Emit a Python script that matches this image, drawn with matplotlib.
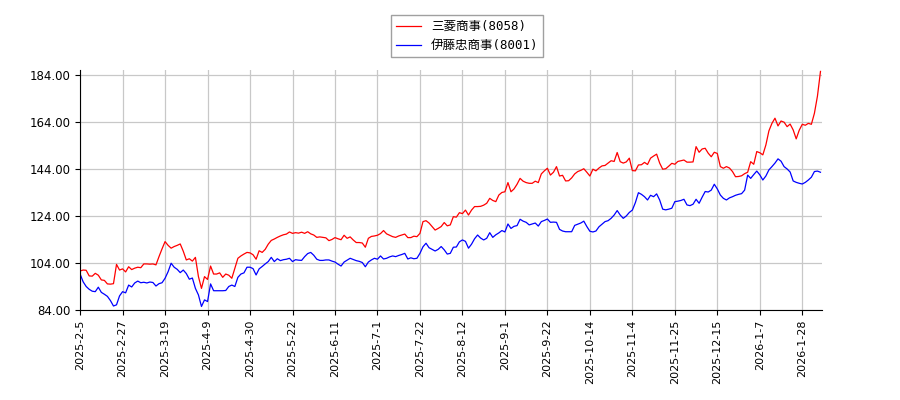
import matplotlib
matplotlib.use("Agg")
import matplotlib.pyplot as plt
from matplotlib.ticker import FormatStrFormatter

# 三菱商事(8058) relative price, one value per trading day
mitsubishi = [
    100.6, 101.0, 100.9, 98.5, 98.4, 99.6, 98.8, 96.8, 96.6, 95.1,
    95.0, 95.2, 103.4, 101.0, 101.5, 100.2, 102.4, 101.2, 101.8, 102.2,
    102.0, 103.6, 103.6, 103.5, 103.6, 103.2, 106.7, 110.0, 113.1, 111.5,
    110.3, 111.0, 111.5, 112.1, 109.0, 105.3, 105.8, 104.8, 106.4, 98.2,
    93.2, 98.2, 97.0, 102.7, 99.3, 99.3, 99.8, 97.9, 99.3, 98.8,
    97.5, 101.7, 106.0, 107.0, 107.8, 108.5, 108.3, 107.5, 105.6, 109.2,
    108.5, 109.8, 112.0, 113.6, 114.2, 114.9, 115.5, 116.0, 116.3, 117.2,
    116.6, 116.9, 116.7, 117.1, 116.6, 117.3, 116.4, 115.9, 114.9, 115.1,
    114.9, 114.7, 113.5, 114.0, 114.8, 114.3, 113.9, 115.8, 114.5, 115.1,
    113.8, 112.7, 112.7, 112.5, 110.7, 114.5, 115.3, 115.5, 115.8, 116.5,
    117.8, 116.4, 115.8, 115.2, 114.9, 115.5, 115.9, 116.3, 114.8, 114.8,
    115.4, 115.2, 116.6, 121.6, 122.0, 121.0, 119.5, 118.0, 118.7, 119.5,
    121.2, 119.8, 120.2, 123.7, 123.5, 125.4, 125.0, 126.5, 124.4, 126.5,
    128.0, 128.0, 128.1, 128.6, 129.4, 131.5, 130.6, 130.1, 132.9, 134.0,
    134.3, 138.2, 134.3, 135.5, 137.5, 140.0, 138.8, 138.2, 137.9, 137.9,
    138.8, 138.2, 141.9, 143.2, 144.3, 141.4, 142.6, 145.0, 141.0, 141.3,
    138.9, 139.0, 140.2, 141.9, 142.9, 143.4, 144.1, 142.6, 141.0, 143.9,
    143.2, 144.4, 145.3, 145.5, 146.5, 147.5, 147.2, 151.0, 147.1, 146.5,
    147.0, 148.6, 143.3, 143.2, 145.7, 145.8, 146.8, 145.9, 148.6, 149.5,
    150.3, 146.5, 143.9, 144.1, 145.2, 146.4, 146.0, 147.2, 147.5, 147.8,
    146.9, 146.9, 147.0, 153.5, 151.1, 152.5, 152.8, 150.7, 149.2, 151.1,
    150.6, 145.0, 144.3, 145.0, 144.4, 142.9, 140.7, 140.8, 141.1, 142.0,
    142.6, 147.1, 146.0, 151.4, 150.9, 150.0, 154.2, 160.2, 163.4, 165.6,
    162.3, 164.4, 163.9, 162.0, 163.1, 160.6, 156.8, 160.5, 163.0, 162.6,
    163.4, 163.0, 167.7, 175.0, 185.5,
]

# 伊藤忠商事(8001) relative price
itochu = [
    99.3, 96.0, 94.0, 92.8, 92.0, 91.8, 93.7, 91.5, 90.7, 89.8,
    88.0, 85.7, 86.2, 90.0, 91.8, 91.3, 94.6, 93.8, 95.5, 96.3,
    95.6, 95.8, 95.5, 95.9, 95.7, 94.2, 95.2, 95.6, 97.5, 100.3,
    103.9, 102.2, 101.3, 99.9, 101.0, 99.5, 97.1, 97.6, 93.2, 90.4,
    85.5, 88.3, 87.6, 95.1, 92.2, 92.2, 92.2, 92.2, 92.3, 94.0,
    94.6, 94.0, 97.9, 99.3, 99.8, 102.2, 102.2, 101.6, 98.9, 101.5,
    102.5, 103.6, 104.6, 106.4, 104.6, 105.8, 105.0, 105.4, 105.6, 106.0,
    104.6, 105.4, 105.2, 105.1, 106.7, 108.0, 108.5, 107.3, 105.6, 105.1,
    105.1, 105.3, 105.3, 104.8, 104.4, 103.5, 102.7, 104.4, 105.2, 106.0,
    105.5, 105.0, 104.7, 104.2, 102.4, 104.4, 105.3, 106.0, 105.6, 107.0,
    105.7, 106.0, 106.6, 107.0, 106.7, 107.2, 107.6, 108.1, 105.7, 106.2,
    105.8, 106.0, 108.1, 110.9, 112.4, 110.5, 109.8, 109.1, 109.8, 111.0,
    109.6, 107.8, 108.1, 110.7, 110.8, 113.0, 113.8, 113.2, 110.3, 112.0,
    114.3, 115.9, 114.6, 113.8, 114.5, 116.9, 114.9, 116.0, 116.8, 117.8,
    117.2, 120.6, 118.7, 119.6, 119.9, 122.6, 121.8, 121.3, 120.2, 120.6,
    121.0, 119.7, 121.6, 122.1, 122.7, 121.3, 121.4, 121.3, 118.3, 117.6,
    117.3, 117.3, 117.3, 120.0, 120.5, 121.0, 121.8, 119.5, 117.5, 117.2,
    117.6, 119.4, 120.5, 121.6, 122.0, 123.0, 124.4, 126.3, 124.4, 123.0,
    124.0, 125.5, 126.5, 129.7, 133.9, 133.2, 132.2, 130.8, 132.8, 132.2,
    133.4, 130.8, 126.9, 126.6, 126.9, 127.3, 130.1, 130.3, 130.6, 131.1,
    128.7, 128.4, 129.0, 131.1, 129.4, 132.0, 134.4, 134.2, 135.0, 137.5,
    135.5, 132.9, 131.5, 130.8, 131.7, 132.2, 132.8, 133.2, 133.5, 135.0,
    141.4, 140.0, 141.6, 143.1, 141.5, 139.3, 141.0, 143.6, 145.0, 146.5,
    148.3, 147.3, 145.0, 144.0, 142.7, 138.9, 138.3, 137.9, 137.6, 138.3,
    139.3, 140.5, 142.9, 143.1, 142.6,
]

tick_labels = [
    "2025-2-5", "2025-2-27", "2025-3-19", "2025-4-9", "2025-4-30",
    "2025-5-22", "2025-6-11", "2025-7-1", "2025-7-22", "2025-8-12",
    "2025-9-1", "2025-9-22", "2025-10-14", "2025-11-4", "2025-11-25",
    "2025-12-15", "2026-1-7", "2026-1-28",
]
tick_step = 14
y_ticks = [84, 104, 124, 144, 164, 184]

fig = plt.figure(figsize=(9, 4), dpi=100)
ax = fig.add_axes([0.089, 0.225, 0.824, 0.6])

x1 = range(len(mitsubishi))
x2 = range(len(itochu))
ax.plot(x1, mitsubishi, color="red", lw=0.9, label="三菱商事(8058)")
ax.plot(x2, itochu, color="blue", lw=0.9, label="伊藤忠商事(8001)")

ax.set_xlim(0, len(mitsubishi) - 0.6)
ax.set_ylim(84, 186.1)
ax.set_xticks([i * tick_step for i in range(len(tick_labels))])
ax.set_xticklabels(tick_labels, rotation=90, fontsize=8)
ax.set_yticks(y_ticks)
ax.yaxis.set_major_formatter(FormatStrFormatter("%.2f"))
ax.tick_params(axis="y", labelsize=8.5)
ax.grid(True, color="#c8c8c8", lw=0.9)
ax.set_axisbelow(True)
for s in ["top", "right"]:
    ax.spines[s].set_visible(False)

fig.legend(loc="upper center", bbox_to_anchor=(0.519, 0.978),
           prop={"family": ["DejaVu Sans Mono", "Noto Sans CJK JP"], "size": 9},
           fancybox=False, edgecolor="#888888", handlelength=2.0)

fig.savefig("out.png", dpi=100)
